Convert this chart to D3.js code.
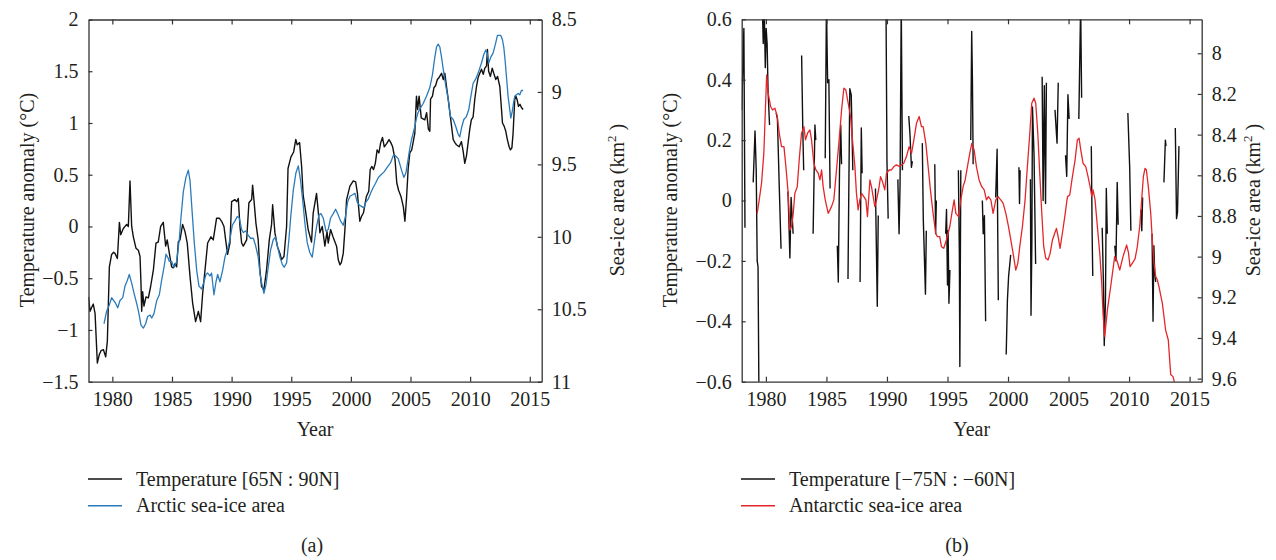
<!DOCTYPE html>
<html>
<head>
<meta charset="utf-8">
<script src="https://cdn.jsdelivr.net/npm/d3@7"></script>
<style>
body { margin: 0; background: #fff; }
svg text { font-family: "Liberation Serif", "Times New Roman", serif; fill: #231f20; }
</style>
</head>
<body>
<script>
// ---- data ----
let yearTicks = [1980, 1985, 1990, 1995, 2000, 2005, 2010, 2015];
let arcTempTicks = [-1.5, -1, -0.5, 0, 0.5, 1, 1.5, 2];
let arcIceTicks = [8.5, 9, 9.5, 10, 10.5, 11];
let antTempTicks = [-0.6, -0.4, -0.2, 0, 0.2, 0.4, 0.6];
let antIceTicks = [8, 8.2, 8.4, 8.6, 8.8, 9, 9.2, 9.4, 9.6];

// Arctic temperature anomaly [65N : 90N]  (year, degC)
let arcTemp = [
[1978.0,-0.68],[1978.13,-0.82],[1978.27,-0.78],[1978.4,-0.75],[1978.55,-0.84],[1978.74,-1.32],[1978.9,-1.24],
[1979.05,-1.20],[1979.25,-1.19],[1979.44,-1.26],[1979.58,-1.11],[1979.75,-0.39],[1979.94,-0.27],[1980.1,-0.25],
[1980.22,-0.26],[1980.42,-0.31],[1980.5,-0.15],[1980.59,0.04],[1980.7,-0.08],[1980.92,-0.02],[1981.2,0.02],
[1981.34,0.00],[1981.48,0.44],[1981.62,0.00],[1981.76,-0.10],[1981.98,-0.21],[1982.18,-0.23],[1982.32,-0.29],
[1982.4,-0.55],[1982.46,-0.82],[1982.54,-0.63],[1982.65,-0.77],[1982.82,-0.68],[1983.02,-0.69],[1983.21,-0.58],
[1983.44,-0.42],[1983.66,-0.16],[1983.85,-0.15],[1984.05,0.00],[1984.27,0.04],[1984.47,-0.19],[1984.6,-0.13],
[1984.78,-0.26],[1984.97,-0.39],[1985.11,-0.40],[1985.25,-0.36],[1985.39,-0.39],[1985.53,-0.15],[1985.67,-0.13],
[1985.89,0.02],[1986.09,-0.05],[1986.28,-0.16],[1986.51,-0.48],[1986.73,-0.74],[1986.98,-0.92],[1987.21,-0.82],
[1987.4,-0.92],[1987.57,-0.65],[1987.77,-0.42],[1987.99,-0.16],[1988.27,-0.10],[1988.46,-0.13],[1988.74,0.08],
[1988.97,0.08],[1989.16,0.05],[1989.36,0.00],[1989.5,-0.13],[1989.66,-0.27],[1989.86,-0.16],[1990.0,0.24],
[1990.28,0.26],[1990.42,0.24],[1990.56,0.27],[1990.7,0.00],[1990.84,-0.16],[1990.98,-0.19],[1991.26,-0.13],
[1991.45,0.23],[1991.68,0.26],[1991.76,0.40],[1991.87,0.26],[1992.04,0.03],[1992.23,-0.13],[1992.37,-0.42],
[1992.51,-0.58],[1992.71,-0.61],[1992.93,-0.42],[1993.16,-0.13],[1993.35,0.02],[1993.44,0.21],[1993.63,-0.06],
[1993.83,-0.19],[1994.05,-0.26],[1994.19,-0.32],[1994.39,-0.29],[1994.61,0.00],[1994.73,0.56],[1994.97,0.67],
[1995.2,0.72],[1995.38,0.84],[1995.5,0.79],[1995.7,0.81],[1995.87,0.58],[1996.0,0.30],[1996.2,0.15],
[1996.42,-0.03],[1996.7,-0.15],[1996.84,0.13],[1997.12,0.32],[1997.3,0.10],[1997.4,-0.06],[1997.6,0.00],
[1997.82,-0.19],[1998.0,-0.05],[1998.1,-0.16],[1998.3,-0.03],[1998.5,-0.10],[1998.8,-0.19],[1998.94,-0.32],
[1999.08,-0.37],[1999.2,-0.35],[1999.36,-0.26],[1999.5,-0.03],[1999.64,0.26],[1999.92,0.39],[2000.2,0.44],
[2000.4,0.43],[2000.55,0.32],[2000.75,0.05],[2000.9,0.10],[2001.05,0.13],[2001.3,0.29],[2001.5,0.34],
[2001.62,0.55],[2001.75,0.58],[2001.9,0.55],[2002.05,0.61],[2002.2,0.74],[2002.35,0.71],[2002.5,0.81],
[2002.65,0.86],[2002.8,0.77],[2003.0,0.80],[2003.2,0.84],[2003.35,0.81],[2003.5,0.77],[2003.7,0.65],
[2003.85,0.42],[2004.0,0.35],[2004.2,0.29],[2004.4,0.19],[2004.53,0.05],[2004.66,0.26],[2004.8,0.55],
[2004.94,0.71],[2005.1,0.74],[2005.36,0.90],[2005.5,1.26],[2005.6,1.13],[2005.72,1.26],[2005.9,1.05],
[2006.2,1.03],[2006.35,1.10],[2006.5,0.94],[2006.62,0.92],[2006.68,1.23],[2006.84,1.26],[2006.96,1.34],
[2007.1,1.36],[2007.25,1.42],[2007.4,1.44],[2007.6,1.48],[2007.75,1.42],[2007.88,1.48],[2008.02,1.35],
[2008.16,1.23],[2008.3,1.10],[2008.44,0.97],[2008.58,0.84],[2008.72,0.81],[2008.85,0.79],[2009.08,0.77],
[2009.27,0.82],[2009.41,0.73],[2009.55,0.61],[2009.69,0.68],[2009.83,0.81],[2009.97,0.94],[2010.1,1.03],
[2010.25,1.06],[2010.39,1.23],[2010.53,1.35],[2010.67,1.44],[2010.81,1.48],[2010.95,1.52],[2011.1,1.47],
[2011.23,1.53],[2011.37,1.55],[2011.45,1.71],[2011.55,1.50],[2011.7,1.45],[2011.85,1.53],[2011.98,1.48],
[2012.15,1.42],[2012.3,1.45],[2012.49,1.35],[2012.63,1.13],[2012.71,1.00],[2012.85,0.97],[2012.99,0.92],
[2013.12,0.84],[2013.27,0.77],[2013.38,0.74],[2013.5,0.76],[2013.6,0.90],[2013.74,1.23],[2013.83,1.26],
[2013.95,1.22],[2014.05,1.16],[2014.18,1.18],[2014.3,1.15],[2014.44,1.13]
];

// Arctic sea-ice area (year, km^2 scaled)
let arcIce = [
[1979.3,10.60],[1979.53,10.51],[1979.75,10.47],[1979.94,10.42],[1980.28,10.46],[1980.45,10.49],[1980.64,10.44],
[1980.87,10.42],[1981.06,10.34],[1981.26,10.30],[1981.42,10.26],[1981.62,10.32],[1981.82,10.39],[1982.04,10.46],
[1982.23,10.53],[1982.4,10.61],[1982.6,10.63],[1982.79,10.60],[1982.96,10.55],[1983.16,10.54],[1983.3,10.56],
[1983.49,10.53],[1983.72,10.44],[1983.94,10.40],[1984.13,10.30],[1984.33,10.21],[1984.5,10.12],[1984.64,10.14],
[1984.78,10.17],[1984.97,10.17],[1985.17,10.21],[1985.39,10.17],[1985.61,10.02],[1985.75,9.87],[1985.95,9.69],
[1986.17,9.59],[1986.37,9.54],[1986.51,9.61],[1986.7,9.84],[1986.87,10.04],[1987.07,10.23],[1987.26,10.34],
[1987.49,10.36],[1987.68,10.31],[1987.85,10.26],[1987.99,10.25],[1988.18,10.27],[1988.32,10.25],[1988.52,10.40],
[1988.69,10.31],[1988.83,10.26],[1989.02,10.31],[1989.25,10.23],[1989.44,10.14],[1989.64,10.09],[1989.86,10.02],
[1990.06,9.92],[1990.28,9.89],[1990.47,9.86],[1990.64,9.87],[1990.84,9.95],[1990.98,9.97],[1991.17,9.96],
[1991.4,9.99],[1991.59,10.01],[1991.82,10.01],[1992.01,10.06],[1992.23,10.14],[1992.37,10.25],[1992.57,10.34],
[1992.71,10.39],[1992.88,10.33],[1993.07,10.21],[1993.27,10.09],[1993.49,10.02],[1993.69,10.00],[1993.83,10.06],
[1994.05,10.14],[1994.25,10.19],[1994.41,10.21],[1994.61,10.18],[1994.8,10.02],[1994.97,9.85],[1995.17,9.68],
[1995.39,9.56],[1995.59,9.51],[1995.78,9.61],[1995.95,9.74],[1996.15,9.91],[1996.34,10.04],[1996.56,10.11],
[1996.76,10.14],[1996.93,10.04],[1997.12,9.93],[1997.32,9.85],[1997.49,9.84],[1997.68,9.87],[1997.91,9.96],
[1998.1,9.95],[1998.3,9.87],[1998.52,9.84],[1998.72,9.81],[1998.94,9.85],[1999.13,9.89],[1999.36,9.92],
[1999.55,9.86],[1999.72,9.76],[1999.92,9.72],[2000.14,9.71],[2000.34,9.70],[2000.53,9.76],[2000.7,9.78],
[2000.89,9.79],[2001.09,9.80],[2001.26,9.76],[2001.45,9.74],[2001.65,9.70],[2001.87,9.66],[2002.07,9.63],
[2002.3,9.59],[2002.55,9.57],[2002.8,9.55],[2003.13,9.51],[2003.32,9.49],[2003.55,9.44],[2003.74,9.44],
[2003.97,9.46],[2004.25,9.54],[2004.44,9.59],[2004.61,9.56],[2004.75,9.49],[2004.94,9.39],[2005.08,9.33],
[2005.36,9.24],[2005.5,9.18],[2005.64,9.14],[2005.84,9.11],[2006.06,9.08],[2006.34,9.03],[2006.62,8.97],
[2006.84,8.88],[2007.04,8.76],[2007.18,8.69],[2007.32,8.67],[2007.46,8.69],[2007.6,8.76],[2007.79,8.87],
[2007.96,8.96],[2008.16,9.05],[2008.35,9.17],[2008.58,9.19],[2008.8,9.24],[2008.99,9.29],[2009.13,9.31],
[2009.3,9.24],[2009.47,9.19],[2009.69,9.17],[2009.89,9.12],[2010.06,9.03],[2010.25,8.94],[2010.47,8.91],
[2010.67,8.87],[2010.95,8.80],[2011.15,8.74],[2011.31,8.71],[2011.42,8.73],[2011.56,8.80],[2011.73,8.76],
[2011.93,8.73],[2012.12,8.67],[2012.29,8.61],[2012.43,8.61],[2012.57,8.61],[2012.71,8.64],[2012.82,8.69],
[2012.93,8.78],[2013.04,8.89],[2013.18,9.03],[2013.32,9.12],[2013.41,9.18],[2013.52,9.14],[2013.63,9.08],
[2013.74,9.03],[2013.88,9.02],[2014.02,9.01],[2014.16,9.02],[2014.3,8.99],[2014.44,8.99]
];

// Antarctic temperature anomaly [-75N : -60N], null = missing
let antTemp = [
[1978.0,0.30],[1978.08,0.42],[1978.18,0.57],[1978.27,-0.09],[1978.5,null],
[1978.95,0.06],[1979.1,0.23],[1979.2,0.10],[1979.28,-0.20],[1979.35,-0.22],[1979.45,-0.80],[1979.6,null],
[1979.7,0.65],[1979.78,0.52],[1979.85,0.66],[1979.95,0.44],[1980.02,0.57],[1980.1,0.52],[1980.18,0.36],[1980.3,0.25],[1980.5,null],
[1980.85,0.29],[1980.95,0.27],[1981.1,0.05],[1981.25,-0.16],[1981.5,null],
[1981.82,0.03],[1981.9,-0.07],[1981.98,-0.19],[1982.08,0.01],[1982.15,-0.04],[1982.25,-0.11],[1982.5,null],
[1982.95,0.48],[1983.05,0.23],[1983.12,0.10],[1983.5,null],
[1983.9,-0.11],[1984.05,0.25],[1984.12,0.20],[1984.5,null],
[1984.9,0.14],[1985.0,0.65],[1985.1,0.39],[1985.2,0.40],[1985.3,0.04],[1985.6,null],
[1985.9,-0.15],[1985.98,-0.27],[1986.08,0.10],[1986.18,0.25],[1986.25,0.12],[1986.5,null],
[1986.78,-0.26],[1986.85,0.04],[1986.93,0.37],[1987.05,0.35],[1987.18,0.10],[1987.5,null],
[1987.78,-0.27],[1987.88,0.24],[1987.95,0.09],[1988.5,null],
[1989.05,0.04],[1989.2,-0.35],[1989.28,-0.05],[1989.6,null],
[1989.92,0.65],[1990.0,0.13],[1990.1,-0.06],[1990.5,null],
[1990.9,0.07],[1991.0,-0.11],[1991.08,0.05],[1991.18,0.65],[1991.28,0.10],[1991.5,null],
[1991.8,0.28],[1991.9,0.22],[1992.02,0.11],[1992.1,0.13],[1992.5,null],
[1992.92,0.19],[1993.0,-0.06],[1993.18,-0.31],[1993.25,-0.10],[1993.6,null],
[1993.95,0.12],[1994.02,-0.11],[1994.08,0.00],[1994.5,null],
[1994.85,-0.11],[1994.92,-0.03],[1995.0,-0.28],[1995.05,-0.10],[1995.12,-0.34],[1995.2,-0.23],[1995.5,null],
[1995.9,0.10],[1995.98,-0.18],[1996.02,-0.55],[1996.1,0.10],[1996.5,null],
[1996.92,0.20],[1997.0,0.56],[1997.06,0.40],[1997.12,0.12],[1997.5,null],
[1997.88,0.00],[1997.95,-0.11],[1998.05,-0.05],[1998.15,-0.40],[1998.5,null],
[1998.98,0.01],[1999.1,0.17],[1999.15,-0.10],[1999.2,-0.33],[1999.5,null],
[1999.85,-0.51],[1999.95,-0.33],[2000.05,-0.25],[2000.15,-0.21],[2000.22,-0.18],[2000.5,null],
[2000.9,0.11],[2000.95,-0.01],[2001.0,0.10],[2001.5,null],
[2001.85,0.07],[2001.9,-0.38],[2001.97,-0.14],[2002.02,0.31],[2002.15,0.15],[2002.28,-0.21],[2002.5,null],
[2002.82,0.41],[2002.9,0.00],[2003.0,0.38],[2003.1,-0.01],[2003.17,0.39],[2003.5,null],
[2003.88,0.30],[2004.05,0.19],[2004.15,0.39],[2004.5,null],
[2004.75,0.15],[2004.85,0.08],[2004.95,0.35],[2005.05,0.27],[2005.5,null],
[2005.85,0.27],[2006.0,0.65],[2006.08,0.34],[2006.5,null],
[2006.88,0.18],[2006.95,-0.11],[2007.0,-0.25],[2007.5,null],
[2007.78,-0.09],[2007.88,-0.27],[2007.95,-0.48],[2008.05,-0.33],[2008.12,0.04],[2008.2,-0.11],[2008.5,null],
[2008.82,-0.15],[2008.92,-0.20],[2009.02,0.06],[2009.1,-0.08],[2009.5,null],
[2009.9,0.29],[2010.05,0.11],[2010.15,-0.10],[2010.5,null],
[2010.98,-0.03],[2011.05,-0.10],[2011.12,0.01],[2011.5,null],
[2011.9,-0.11],[2011.98,-0.40],[2012.05,-0.15],[2012.12,-0.24],[2012.2,-0.27],[2012.5,null],
[2012.88,0.06],[2013.0,0.20],[2013.05,0.18],[2013.5,null],
[2013.82,0.24],[2013.92,-0.06],[2014.0,-0.04],[2014.12,0.18]
];

// Antarctic sea-ice area
let antIce = [
[1979.28,8.787],[1979.45,8.72],[1979.64,8.639],[1979.83,8.49],[1980.06,8.107],[1980.19,8.197],[1980.39,8.262],
[1980.55,8.279],[1980.74,8.27],[1980.94,8.311],[1981.1,8.393],[1981.29,8.459],[1981.49,8.459],[1981.65,8.557],
[1981.84,8.689],[1981.98,8.869],[1982.12,8.852],[1982.26,8.787],[1982.39,8.689],[1982.59,8.656],[1982.75,8.525],
[1982.94,8.393],[1983.14,8.361],[1983.27,8.426],[1983.44,8.393],[1983.63,8.377],[1983.77,8.426],[1983.96,8.541],
[1984.13,8.574],[1984.32,8.59],[1984.46,8.623],[1984.6,8.574],[1984.73,8.656],[1984.9,8.721],[1985.15,8.787],
[1985.42,8.754],[1985.61,8.721],[1985.83,8.574],[1986.05,8.426],[1986.25,8.279],[1986.44,8.172],[1986.6,8.18],
[1986.8,8.246],[1986.99,8.311],[1987.15,8.426],[1987.35,8.557],[1987.48,8.689],[1987.62,8.77],[1987.76,8.721],
[1987.9,8.689],[1988.09,8.705],[1988.26,8.721],[1988.39,8.803],[1988.59,8.623],[1988.72,8.656],[1988.86,8.705],
[1989.0,8.754],[1989.14,8.721],[1989.33,8.664],[1989.47,8.607],[1989.63,8.631],[1989.82,8.672],[1989.96,8.59],
[1990.18,8.574],[1990.37,8.574],[1990.57,8.557],[1990.79,8.549],[1991.01,8.557],[1991.2,8.549],[1991.39,8.541],
[1991.61,8.508],[1991.83,8.459],[1992.03,8.492],[1992.22,8.426],[1992.44,8.344],[1992.66,8.311],[1992.85,8.361],
[1992.99,8.361],[1993.21,8.443],[1993.4,8.557],[1993.59,8.672],[1993.81,8.787],[1994.03,8.885],[1994.17,8.902],
[1994.36,8.902],[1994.5,8.951],[1994.69,8.959],[1994.91,8.918],[1995.05,8.885],[1995.19,8.852],[1995.36,8.787],
[1995.55,8.721],[1995.69,8.787],[1995.91,8.803],[1996.1,8.721],[1996.29,8.656],[1996.46,8.623],[1996.65,8.557],
[1996.84,8.492],[1997.01,8.443],[1997.2,8.475],[1997.39,8.557],[1997.61,8.623],[1997.83,8.656],[1998.03,8.672],
[1998.22,8.721],[1998.38,8.705],[1998.58,8.721],[1998.77,8.787],[1998.99,8.721],[1999.18,8.705],[1999.4,8.721],
[1999.6,8.738],[1999.82,8.787],[2000.04,8.852],[2000.23,8.918],[2000.42,8.984],[2000.64,9.066],[2000.81,9.033],
[2000.97,8.951],[2001.19,8.852],[2001.41,8.721],[2001.6,8.557],[2001.8,8.393],[2001.96,8.246],[2002.15,8.221],
[2002.29,8.246],[2002.46,8.393],[2002.62,8.59],[2002.79,8.787],[2002.95,8.951],[2003.12,9.008],[2003.31,9.016],
[2003.48,8.984],[2003.67,8.918],[2003.86,8.885],[2004.0,8.861],[2004.14,8.902],[2004.3,8.959],[2004.49,8.885],
[2004.69,8.803],[2004.91,8.705],[2005.1,8.697],[2005.32,8.607],[2005.54,8.525],[2005.73,8.426],[2005.87,8.418],
[2006.01,8.475],[2006.2,8.541],[2006.42,8.557],[2006.61,8.607],[2006.78,8.656],[2006.92,8.705],[2007.03,8.672],
[2007.19,8.721],[2007.38,8.852],[2007.58,8.984],[2007.74,9.131],[2007.85,9.279],[2007.99,9.393],[2008.21,9.262],
[2008.48,9.148],[2008.81,9.0],[2009.0,9.02],[2009.23,9.066],[2009.5,9.0],[2009.8,8.943],[2009.95,8.98],
[2010.08,9.049],[2010.3,9.03],[2010.5,9.01],[2010.68,8.951],[2010.88,8.852],[2011.04,8.721],[2011.18,8.607],
[2011.32,8.566],[2011.43,8.574],[2011.59,8.656],[2011.79,8.787],[2011.92,8.918],[2012.06,9.033],[2012.2,9.098],
[2012.34,9.115],[2012.47,9.148],[2012.75,9.23],[2013.02,9.361],[2013.24,9.41],[2013.44,9.58],[2013.63,9.59],
[2013.85,9.64]
];

let w = 1276, h = 560;
let serif = "'Liberation Serif', 'Times New Roman', serif";

let svg = d3.select("body")
            .append("svg")
            .attr("width", w)
            .attr("height", h)
            .attr("font-family", serif);

let fmt = (d) => {
  let v = +d.toFixed(1);
  return (v < 0 ? "\u2212" : "") + Math.abs(v);
};

function drawPanel(p) {
  let x = d3.scaleLinear().domain([1978, 2016]).range([p.left, p.right]);
  let yL = d3.scaleLinear().domain(p.tDomain).range([p.bottom, p.top]);
  let yR = d3.scaleLinear().domain(p.aDomain).range([p.bottom, p.top]);

  let g = svg.append("g");

  svg.append("clipPath")
     .attr("id", "clip-" + p.id)
     .append("rect")
     .attr("x", p.left)
     .attr("y", p.top)
     .attr("width", p.right - p.left)
     .attr("height", p.bottom - p.top);

  let lines = g.append("g").attr("clip-path", "url(#clip-" + p.id + ")");

  let tLine = d3.line()
                .defined(d => d[1] !== null)
                .x(d => x(d[0]))
                .y(d => yL(d[1]));
  let aLine = d3.line()
                .x(d => x(d[0]))
                .y(d => yR(d[1]));

  lines.append("path")
       .datum(p.temp)
       .attr("d", tLine)
       .attr("fill", "none")
       .attr("stroke", "#111")
       .attr("stroke-width", 1.4)
       .attr("stroke-linejoin", "round");

  lines.append("path")
       .datum(p.ice)
       .attr("d", aLine)
       .attr("fill", "none")
       .attr("stroke", p.iceColor)
       .attr("stroke-width", 1.3)
       .attr("stroke-linejoin", "round");

  // axes (ticks point inward)
  let axes = [
    g.append("g")
     .attr("transform", "translate(0," + p.bottom + ")")
     .call(d3.axisBottom(x).tickValues(yearTicks).tickFormat(d3.format("d"))
             .tickSizeInner(-5).tickSizeOuter(0).tickPadding(10)),
    g.append("g")
     .attr("transform", "translate(0," + p.top + ")")
     .call(d3.axisTop(x).tickValues(yearTicks).tickFormat("")
             .tickSizeInner(-5).tickSizeOuter(0)),
    g.append("g")
     .attr("transform", "translate(" + p.left + ",0)")
     .call(d3.axisLeft(yL).tickValues(p.tTicks).tickFormat(fmt)
             .tickSizeInner(-4).tickSizeOuter(0).tickPadding(10)),
    g.append("g")
     .attr("transform", "translate(" + p.right + ",0)")
     .call(d3.axisRight(yR).tickValues(p.aTicks).tickFormat(fmt)
             .tickSizeInner(-4).tickSizeOuter(0).tickPadding(10))
  ];
  axes.forEach(a => a.attr("font-family", serif).attr("font-size", 20));

  g.selectAll(".domain").attr("stroke", "#333").attr("stroke-width", 1.3);
  g.selectAll(".tick line").attr("stroke", "#333").attr("stroke-width", 1.2);
  g.selectAll(".tick text").attr("fill", "#231f20");

  // axis titles
  g.append("text")
   .attr("x", (p.left + p.right) / 2)
   .attr("y", 436)
   .attr("text-anchor", "middle")
   .style("font-size", "20px")
   .text("Year");

  g.append("text")
   .attr("transform", "translate(" + p.tLabelX + ",200) rotate(-90)")
   .attr("text-anchor", "middle")
   .style("font-size", "20px")
   .text("Temperature anomaly (\u00B0C)");

  let rl = g.append("text")
   .attr("transform", "translate(" + p.aLabelX + ",200) rotate(-90)")
   .attr("text-anchor", "middle")
   .style("font-size", "20px");
  rl.append("tspan").text("Sea-ice area (km");
  rl.append("tspan").attr("dy", -8).style("font-size", "13px").text("2");
  rl.append("tspan").attr("dy", 8).text(" )");

  // legend
  let leg = g.append("g");
  [[p.tempName, "#111"], [p.iceName, p.iceColor]].forEach((d, i) => {
    leg.append("line")
       .attr("x1", p.legX).attr("x2", p.legX + 34)
       .attr("y1", 479 + i * 26.7).attr("y2", 479 + i * 26.7)
       .attr("stroke", d[1]).attr("stroke-width", 1.4);
    leg.append("text")
       .attr("x", p.legX + 48)
       .attr("y", 485.5 + i * 26.7)
       .style("font-size", "20px")
       .text(d[0]);
  });

  g.append("text")
   .attr("x", p.capX)
   .attr("y", 552)
   .attr("text-anchor", "middle")
   .style("font-size", "20px")
   .text(p.caption);
}

drawPanel({
  id: "a", left: 88.5, right: 541.7, top: 19.5, bottom: 381.7,
  tDomain: [-1.5, 2], aDomain: [11, 8.5],
  tTicks: arcTempTicks, aTicks: arcIceTicks,
  temp: arcTemp, ice: arcIce, iceColor: "#2b7bba",
  tLabelX: 34, aLabelX: 624,
  tempName: "Temperature [65N : 90N]", iceName: "Arctic sea-ice area",
  legX: 88, capX: 312, caption: "(a)"
});

drawPanel({
  id: "b", left: 741.7, right: 1201.7, top: 19.3, bottom: 381.7,
  tDomain: [-0.6, 0.6], aDomain: [9.615, 7.833],
  tTicks: antTempTicks, aTicks: antIceTicks,
  temp: antTemp, ice: antIce, iceColor: "#e3262a",
  tLabelX: 677, aLabelX: 1260,
  tempName: "Temperature [\u221275N : \u221260N]", iceName: "Antarctic sea-ice area",
  legX: 741, capX: 957, caption: "(b)"
});
</script>
</body>
</html>
